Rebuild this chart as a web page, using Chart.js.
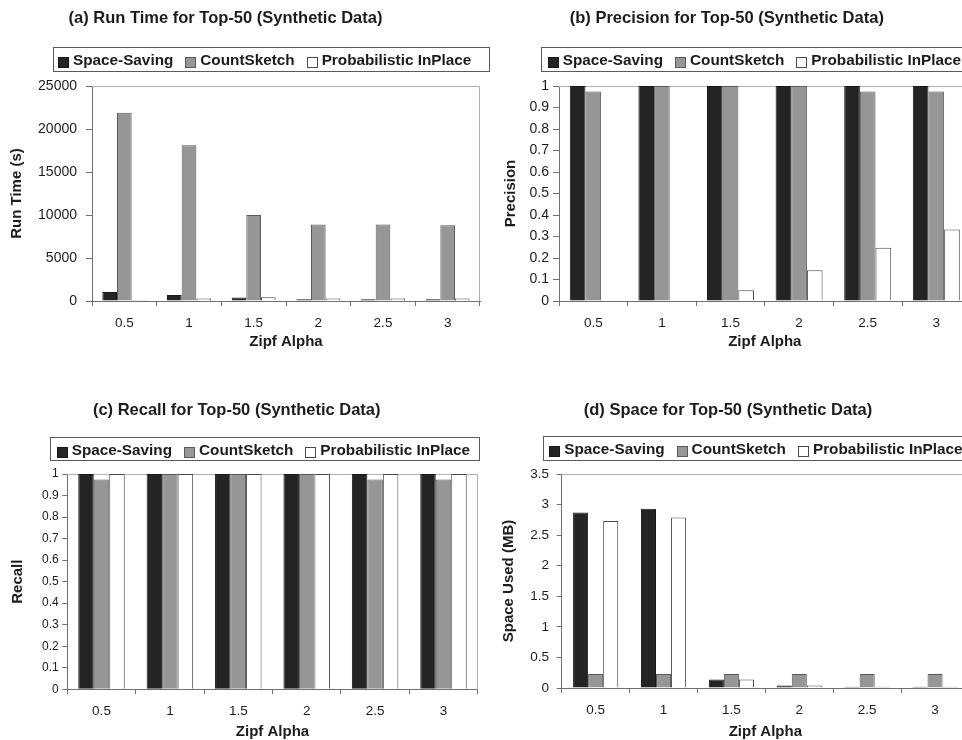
<!DOCTYPE html>
<html><head><meta charset="utf-8">
<script src="https://cdn.jsdelivr.net/npm/chart.js@4.4.1/dist/chart.umd.min.js"></script>
<style>
html,body{margin:0;padding:0;background:#fff;width:962px;height:740px;overflow:hidden;position:relative;}
canvas{position:absolute;}
</style></head><body>
<canvas id="ca" width="492" height="370" style="left:0px;top:0px"></canvas>
<canvas id="cb" width="490" height="370" style="left:492px;top:0px"></canvas>
<canvas id="cc" width="492" height="370" style="left:0px;top:380px"></canvas>
<canvas id="cd" width="490" height="370" style="left:492px;top:380px"></canvas>
<script>
// ---------- data ----------
const categories = ['0.5', '1', '1.5', '2', '2.5', '3'];
const seriesNames = ['Space-Saving', 'CountSketch', 'Probabilistic InPlace'];

const runTimeSpaceSaving = [1050, 700, 420, 200, 200, 200];
const runTimeCountSketch = [21900, 18100, 10000, 8900, 8900, 8800];
const runTimeInPlace     = [120, 300, 430, 300, 300, 300];

const precisionSpaceSaving = [1, 1, 1, 1, 1, 1];
const precisionCountSketch = [0.975, 1, 1, 1, 0.975, 0.975];
const precisionInPlace     = [0.002, 0.002, 0.05, 0.143, 0.248, 0.332];

const recallSpaceSaving = [1, 1, 1, 1, 1, 1];
const recallCountSketch = [0.975, 1, 1, 1, 0.975, 0.975];
const recallInPlace     = [1, 1, 1, 1, 1, 1];

const spaceSpaceSaving = [2.87, 2.93, 0.14, 0.04, 0.02, 0.02];
const spaceCountSketch = [0.23, 0.23, 0.23, 0.23, 0.23, 0.23];
const spaceInPlace     = [2.73, 2.79, 0.14, 0.04, 0.02, 0.02];

const runTimeTickValues = [0, 5000, 10000, 15000, 20000, 25000];
const runTimeTickLabels = ['0', '5000', '10000', '15000', '20000', '25000'];
const ratioTickValues = [0, 0.1, 0.2, 0.3, 0.4, 0.5, 0.6, 0.7, 0.8, 0.9, 1];
const ratioTickLabels = ['0', '0.1', '0.2', '0.3', '0.4', '0.5', '0.6', '0.7', '0.8', '0.9', '1'];
const spaceTickValues = [0, 0.5, 1, 1.5, 2, 2.5, 3, 3.5];
const spaceTickLabels = ['0', '0.5', '1', '1.5', '2', '2.5', '3', '3.5'];

// ---------- styles ----------
const FAMILY = '"Liberation Sans", Arial, Helvetica, sans-serif';
const TEXT = '#1c1c1c';
const AXIS = '#707070';
const FRAME = '#b0b0b0';
const seriesStyles = [
  { bg: '#242424', border: '#181818' },
  { bg: '#969696', border: '#5a5a5a' },
  { bg: '#ffffff', border: '#4a4a4a' }
];

const decorPlugin = {
  id: 'decor',
  beforeDatasetsDraw(chart) {
    const { ctx, chartArea: a } = chart;
    ctx.save();
    ctx.strokeStyle = FRAME;
    ctx.lineWidth = 1;
    ctx.beginPath();
    const t = Math.round(a.top) + 0.5, r = Math.round(a.right) - 0.5;
    ctx.moveTo(a.left, t); ctx.lineTo(r, t); ctx.lineTo(r, a.bottom);
    ctx.stroke();
    ctx.restore();
  },
  afterDraw(chart, args, o) {
    const ctx = chart.ctx;
    ctx.save();
    ctx.fillStyle = TEXT;
    ctx.font = 'bold 16.5px ' + FAMILY;
    ctx.textAlign = 'center';
    ctx.textBaseline = 'middle';
    ctx.fillText(o.title, o.titleX, o.titleY);
    // legend frame
    ctx.strokeStyle = '#5a5a5a';
    ctx.lineWidth = 1;
    ctx.strokeRect(Math.round(o.legendX) + 0.5, Math.round(o.legendY) + 0.5, Math.round(o.legendW), Math.round(o.legendH));
    ctx.font = 'bold 15.3px ' + FAMILY;
    ctx.textAlign = 'left';
    ctx.textBaseline = 'alphabetic';
    let x = o.legendX + o.padL;
    const base = o.legendY + 18.3;
    chart.data.datasets.forEach(ds => {
      const mx = Math.round(x) + 0.5, my = Math.round(base - 8) + 0.5;
      ctx.fillStyle = ds.backgroundColor;
      ctx.fillRect(mx, my, 10, 10);
      ctx.strokeStyle = ds.borderColor;
      ctx.strokeRect(mx, my, 10, 10);
      ctx.fillStyle = TEXT;
      ctx.fillText(ds.label, x + 15, base);
      x += 15 + ctx.measureText(ds.label).width + 12;
    });
    ctx.restore();
  }
};

function makeChart(id, p) {
  const canvas = document.getElementById(id);
  const W = canvas.width, H = canvas.height;
  return new Chart(canvas, {
    type: 'bar',
    data: {
      labels: categories,
      datasets: p.series.map((vals, i) => ({
        label: seriesNames[i],
        data: vals,
        backgroundColor: seriesStyles[i].bg,
        borderColor: seriesStyles[i].border,
        borderWidth: 1,
        categoryPercentage: p.catPct,
        barPercentage: 1.0
      }))
    },
    options: {
      responsive: false,
      animation: false,
      devicePixelRatio: 1,
      layout: { padding: { left: 0, top: p.plot.top, right: W - p.plot.right, bottom: 0 } },
      plugins: {
        legend: { display: false },
        title: { display: false },
        tooltip: { enabled: false },
        decor: p.decor
      },
      scales: {
        x: {
          grid: { display: true, offset: true, drawOnChartArea: false, drawTicks: true, tickLength: 5, color: AXIS },
          border: { display: true, color: AXIS, width: 1 },
          ticks: { font: { family: FAMILY, size: 13.5 }, color: TEXT, padding: 9, maxRotation: 0, autoSkip: false },
          title: { display: true, text: 'Zipf Alpha', font: { family: FAMILY, size: 15, weight: 'bold' }, color: TEXT,
                   padding: { top: 0, bottom: p.xTitlePad } },
          afterFit: s => { s.height = H - p.plot.bottom; }
        },
        y: {
          min: p.yMin, max: p.yMax,
          afterBuildTicks: s => { s.ticks = p.tickValues.map(v => ({ value: v })); },
          ticks: { callback: (v, i) => p.tickLabels[i], font: { family: FAMILY, size: p.yTickSize }, color: TEXT, padding: p.yTickPad },
          grid: { display: true, drawOnChartArea: false, drawTicks: true, tickLength: p.yTickLen, color: AXIS },
          border: { display: true, color: AXIS, width: 1 },
          title: { display: true, text: p.yTitle, font: { family: FAMILY, size: 15, weight: 'bold' }, color: TEXT,
                   padding: { top: p.yTitlePad, bottom: 0 } },
          afterFit: s => { s.width = p.plot.left; }
        }
      }
    },
    plugins: [decorPlugin]
  });
}

makeChart('ca', {
  series: [runTimeSpaceSaving, runTimeCountSketch, runTimeInPlace],
  catPct: 0.68,
  plot: { left: 92, right: 480, top: 86, bottom: 301 },
  yMin: 0, yMax: 25000, tickValues: runTimeTickValues, tickLabels: runTimeTickLabels,
  yTickSize: 14, yTickPad: 9, yTickLen: 6,
  yTitle: 'Run Time (s)', yTitlePad: 8, xTitlePad: 19,
  decor: { title: '(a) Run Time for Top-50 (Synthetic Data)', titleX: 225.5, titleY: 18,
           legendX: 53, legendY: 47, legendW: 436, legendH: 24, padL: 5 }
});

makeChart('cb', {
  series: [precisionSpaceSaving, precisionCountSketch, precisionInPlace],
  catPct: 0.685,
  plot: { left: 67, right: 478.6, top: 86, bottom: 301 },
  yMin: 0, yMax: 1, tickValues: ratioTickValues, tickLabels: ratioTickLabels,
  yTickSize: 14, yTickPad: 4, yTickLen: 6,
  yTitle: 'Precision', yTitlePad: 10, xTitlePad: 19,
  decor: { title: '(b) Precision for Top-50 (Synthetic Data)', titleX: 234.8, titleY: 18,
           legendX: 49, legendY: 47, legendW: 436, legendH: 24, padL: 6.7 }
});

makeChart('cc', {
  series: [recallSpaceSaving, recallCountSketch, recallInPlace],
  catPct: 0.68,
  plot: { left: 67.3, right: 477.7, top: 94, bottom: 309.3 },
  yMin: 0, yMax: 1, tickValues: ratioTickValues, tickLabels: ratioTickLabels,
  yTickSize: 12, yTickPad: 3.6, yTickLen: 5,
  yTitle: 'Recall', yTitlePad: 8.5, xTitlePad: 9.2,
  decor: { title: '(c) Recall for Top-50 (Synthetic Data)', titleX: 236.7, titleY: 30,
           legendX: 50, legendY: 57, legendW: 429, legendH: 23, padL: 6.7 }
});

makeChart('cd', {
  series: [spaceSpaceSaving, spaceCountSketch, spaceInPlace],
  catPct: 0.665,
  plot: { left: 69.7, right: 477, top: 94, bottom: 308 },
  yMin: 0, yMax: 3.5, tickValues: spaceTickValues, tickLabels: spaceTickLabels,
  yTickSize: 13.5, yTickPad: 7.7, yTickLen: 5,
  yTitle: 'Space Used (MB)', yTitlePad: 8, xTitlePad: 9,
  decor: { title: '(d) Space for Top-50 (Synthetic Data)', titleX: 236, titleY: 30,
           legendX: 51, legendY: 56, legendW: 436, legendH: 24, padL: 6.3 }
});
</script>
</body></html>
